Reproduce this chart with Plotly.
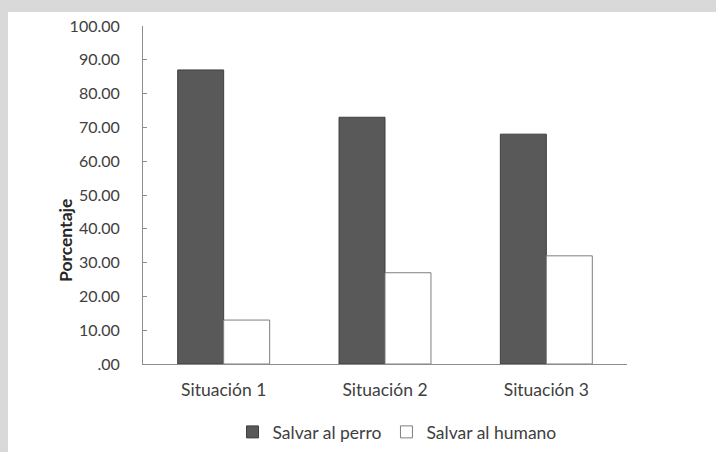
import plotly.graph_objects as go

situaciones = ["Situación 1", "Situación 2", "Situación 3"]
salvar_perro = [87, 73, 68]
salvar_humano = [13, 27, 32]
y_ticks = [0, 10, 20, 30, 40, 50, 60, 70, 80, 90, 100]
y_tick_labels = [".00", "10.00", "20.00", "30.00", "40.00", "50.00",
                 "60.00", "70.00", "80.00", "90.00", "100.00"]

FONT = "Lato, 'Noto Sans', sans-serif"
TEXT = "#404040"
AXIS = "#8c8c8c"

W, H = 716, 452
L, R, T, B = 143, 89, 26, 88
pw, ph = W - L - R, H - T - B


def px_x(p):
    return (p - L) / pw


def px_y(p):
    return (H - B - p) / ph


fig = go.Figure()
fig.add_bar(
    x=situaciones, y=salvar_perro, name="Salvar al perro",
    marker=dict(color="#595959", line=dict(color="#3f3f3f", width=1)),
)
fig.add_bar(
    x=situaciones, y=salvar_humano, name="Salvar al humano",
    marker=dict(color="#ffffff", line=dict(color="#7f7f7f", width=1)),
)

fig.update_layout(
    width=W, height=H,
    margin=dict(l=L, r=R, t=T, b=B, autoexpand=False),
    paper_bgcolor="#d9d9d9",
    plot_bgcolor="#ffffff",
    barmode="group",
    bargap=0.43,
    bargroupgap=0,
    font=dict(family=FONT, size=16, color=TEXT),
    showlegend=True,
    legend=dict(
        orientation="h", x=px_x(397), xanchor="center",
        y=px_y(432), yanchor="middle",
        font=dict(size=17.5, color=TEXT),
        bgcolor="rgba(0,0,0,0)",
        itemwidth=30, tracegroupgap=0,
    ),
    shapes=[
        dict(type="rect", xref="paper", yref="paper", layer="below",
             x0=px_x(8), x1=px_x(W), y0=px_y(H), y1=px_y(12),
             fillcolor="#ffffff", line=dict(width=0)),
    ],
    annotations=[
        dict(text="<b>Porcentaje</b>", textangle=-90,
             xref="paper", yref="paper", x=px_x(65), y=px_y(241),
             xanchor="center", yanchor="middle", showarrow=False,
             font=dict(size=17.5, color="#262626")),
    ],
)

fig.update_yaxes(
    range=[0, 100],
    tickvals=y_ticks, ticktext=y_tick_labels,
    ticks="inside", ticklen=4, tickcolor=AXIS, tickwidth=1,
    showline=True, linecolor=AXIS, linewidth=1,
    showgrid=False, zeroline=False,
    ticklabelstandoff=19,
    tickfont=dict(size=16, color=TEXT),
)
fig.update_xaxes(
    showline=True, linecolor=AXIS, linewidth=1,
    ticks="", showgrid=False,
    ticklabelstandoff=10,
    tickfont=dict(size=17.5, color=TEXT),
)

fig.write_html("out.html")
